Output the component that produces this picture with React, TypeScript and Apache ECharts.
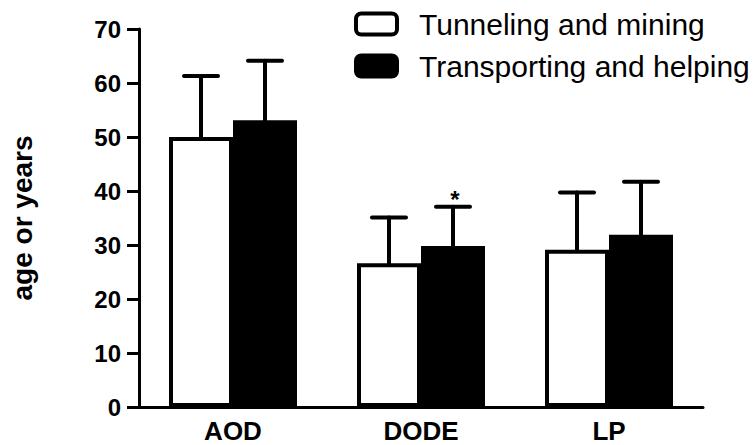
import React, { useEffect, useRef } from "react";
import * as echarts from "echarts";

const categories = ["AOD", "DODE", "LP"];
const seriesNames = ["Tunneling and mining", "Transporting and helping"];
const tunnelingMean = [50.0, 26.6, 29.1];
const tunnelingSD = [11.3, 8.5, 10.6];
const transportMean = [53.1, 29.8, 31.9];
const transportSD = [11.0, 7.3, 9.8];
const transportSig = ["", "*", ""];
const yTicks = [0, 10, 20, 30, 40, 50, 60, 70];

const FONT = "Liberation Sans, Arial, Helvetica, sans-serif";
const BAR_W = 64;

function errorSeries(name: string, means: number[], sds: number[], sig: string[], offset: number) {
  return {
    type: "custom",
    name: name + " SD",
    z: 5,
    silent: true,
    data: means.map((m, i) => [i, m, sds[i]]),
    renderItem: (params: any, api: any) => {
      const i = api.value(0);
      const m = api.value(1);
      const sd = api.value(2);
      const s = sig[params.dataIndex] || "";
      const base = api.coord([i, m]);
      const top = api.coord([i, m + sd]);
      const x = base[0] + offset;
      const style = { stroke: "#000", lineWidth: 4, lineCap: "round" };
      const children: any[] = [
        { type: "line", shape: { x1: x, y1: base[1], x2: x, y2: top[1] }, style },
        { type: "line", shape: { x1: x - 17, y1: top[1], x2: x + 17, y2: top[1] }, style },
      ];
      if (s) {
        children.push({
          type: "text",
          x: x + 2,
          y: top[1] - 7,
          style: {
            text: s,
            fill: "#000",
            font: `bold 24px ${FONT}`,
            align: "center",
            verticalAlign: "middle",
          },
        });
      }
      return { type: "group", children };
    },
  };
}

export default function App() {
  const ref = useRef<HTMLDivElement>(null);
  useEffect(() => {
    document.body.style.margin = "0";
    const chart = echarts.init(ref.current!, undefined, { renderer: "svg" });
    chart.setOption({
      animation: false,
      backgroundColor: "#fff",
      textStyle: { fontFamily: FONT },
      grid: { left: 136, right: 52, top: 29, bottom: 38, containLabel: false },
      legend: {
        orient: "vertical",
        left: 349,
        top: 4,
        itemWidth: 41,
        itemHeight: 21,
        itemGap: 12,
        icon: "roundRect",
        textStyle: { fontSize: 30, color: "#000", fontFamily: FONT, padding: [0, 0, 0, 17] },
        data: [
          { name: seriesNames[0], itemStyle: { color: "#fff", borderColor: "#000", borderWidth: 4 } },
          { name: seriesNames[1], itemStyle: { color: "#000", borderColor: "#000", borderWidth: 4 } },
        ],
      },
      xAxis: {
        type: "category",
        data: categories,
        axisLine: { lineStyle: { color: "#000", width: 3 } },
        axisTick: { alignWithLabel: true, length: 10, lineStyle: { color: "#000", width: 3 } },
        axisLabel: { color: "#000", fontWeight: "bold", fontSize: 26, margin: 11, fontFamily: FONT },
      },
      yAxis: {
        type: "value",
        min: yTicks[0],
        max: yTicks[yTicks.length - 1],
        interval: 10,
        name: "age or years",
        nameLocation: "middle",
        nameRotate: 90,
        nameGap: 103,
        nameTextStyle: { color: "#000", fontWeight: "bold", fontSize: 28, fontFamily: FONT },
        axisLine: { show: true, lineStyle: { color: "#000", width: 3 } },
        axisTick: { show: true, length: 12, lineStyle: { color: "#000", width: 3 } },
        axisLabel: { color: "#000", fontWeight: "bold", fontSize: 24, margin: 18, fontFamily: FONT },
        splitLine: { show: false },
      },
      series: [
        {
          type: "bar",
          name: seriesNames[0],
          data: tunnelingMean,
          barWidth: BAR_W,
          barGap: "0%",
          itemStyle: { color: "#fff", borderColor: "#000", borderWidth: 4 },
        },
        {
          type: "bar",
          name: seriesNames[1],
          data: transportMean,
          barWidth: BAR_W,
          barGap: "0%",
          itemStyle: { color: "#000", borderColor: "#000", borderWidth: 4 },
        },
        errorSeries(seriesNames[0], tunnelingMean, tunnelingSD, ["", "", ""], -BAR_W / 2),
        errorSeries(seriesNames[1], transportMean, transportSD, transportSig, BAR_W / 2),
      ],
    });
    return () => chart.dispose();
  }, []);
  return <div ref={ref} style={{ width: 755, height: 445 }} />;
}
